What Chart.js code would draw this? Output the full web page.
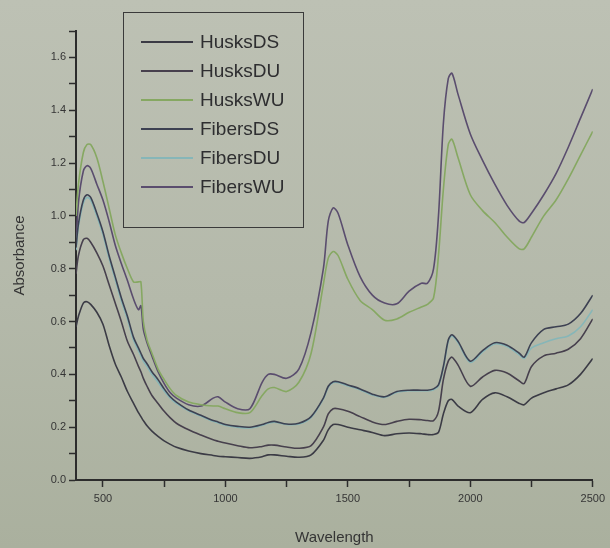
<!DOCTYPE html>
<html>
<head>
<meta charset="utf-8">
<script src="https://cdn.jsdelivr.net/npm/chart.js@4.4.0/dist/chart.umd.min.js"></script>
<style>
  html, body { margin: 0; padding: 0; }
  body {
    width: 610px; height: 548px; overflow: hidden;
    background: linear-gradient(180deg, #bdc1b4 0%, #b4b9aa 55%, #aab09e 100%);
    font-family: "Liberation Sans", Arial, sans-serif;
  }
  #wrap { position: relative; width: 610px; height: 548px; }
  #legend {
    position: absolute; left: 123px; top: 12px; width: 181px; height: 216px;
    border: 1.5px solid #3a3a3a; box-sizing: border-box; padding-top: 14px;
  }
  .row { height: 29px; display: flex; align-items: center; }
  .swatch { width: 52px; height: 2px; margin-left: 17px; margin-right: 7px; }
  .lbl { font-size: 19px; color: #2e2e30; }
</style>
</head>
<body>
<div id="wrap">
  <canvas id="myChart" width="610" height="548"></canvas>
  <div id="legend"></div>
</div>
<script>
// wavelength grid (nm)
const wavelengths = [390, 400, 420, 435, 450, 475, 500, 525, 550, 575, 600, 625, 645, 655, 665, 680, 700, 725, 750, 775,
  800, 850, 900, 950, 970, 1000, 1050, 1100, 1150, 1175, 1200, 1250, 1300, 1350, 1400, 1420, 1440, 1460, 1500, 1550,
  1600, 1650, 1700, 1750, 1800, 1825, 1850, 1870, 1890, 1910, 1925, 1950, 2000, 2050, 2100, 2150, 2200, 2220, 2250, 2300,
  2350, 2400, 2450, 2500];

const husksDS = [0.58, 0.62, 0.67, 0.675, 0.665, 0.635, 0.59, 0.51, 0.44, 0.39, 0.335, 0.29, 0.255, 0.24, 0.225, 0.205, 0.185, 0.165, 0.148, 0.135,
  0.124, 0.11, 0.1, 0.093, 0.09, 0.088, 0.085, 0.082, 0.088, 0.095, 0.095, 0.09, 0.086, 0.095, 0.15, 0.19, 0.21, 0.21, 0.2, 0.19,
  0.18, 0.168, 0.175, 0.178, 0.175, 0.172, 0.172, 0.18, 0.25, 0.3, 0.305, 0.28, 0.255, 0.305, 0.33, 0.315, 0.29, 0.285, 0.31, 0.33,
  0.345, 0.36, 0.4, 0.46];

const husksDU = [0.78, 0.85, 0.91, 0.915, 0.9, 0.86, 0.81, 0.74, 0.67, 0.6, 0.525, 0.475, 0.43, 0.41, 0.385, 0.355, 0.32, 0.29, 0.26, 0.235,
  0.215, 0.19, 0.17, 0.152, 0.147, 0.14, 0.13, 0.122, 0.127, 0.132, 0.132, 0.125, 0.12, 0.13, 0.2, 0.25, 0.27, 0.27, 0.26, 0.24,
  0.22, 0.21, 0.222, 0.23, 0.228, 0.225, 0.225, 0.26, 0.38, 0.45, 0.465, 0.435, 0.355, 0.39, 0.415, 0.405, 0.375, 0.365, 0.43, 0.47,
  0.48, 0.495, 0.535, 0.61];

const husksWU = [1.0, 1.12, 1.24, 1.27, 1.27, 1.22, 1.13, 1.03, 0.93, 0.86, 0.8, 0.75, 0.75, 0.75, 0.6, 0.53, 0.48, 0.42, 0.38, 0.345,
  0.32, 0.295, 0.285, 0.28, 0.28, 0.27, 0.255, 0.255, 0.32, 0.345, 0.35, 0.335, 0.37, 0.48, 0.74, 0.84, 0.865, 0.85, 0.76, 0.68,
  0.645, 0.605, 0.61, 0.635, 0.655, 0.665, 0.69, 0.85, 1.1, 1.27, 1.29, 1.22, 1.08, 1.02, 0.975, 0.92, 0.875, 0.875, 0.92, 1.0,
  1.06, 1.14, 1.23, 1.32];

const fibersDS = [0.88, 0.97, 1.06, 1.08, 1.07, 1.01, 0.94, 0.85, 0.77, 0.69, 0.62, 0.54, 0.5, 0.48, 0.46, 0.44, 0.41, 0.38, 0.345, 0.315,
  0.295, 0.265, 0.245, 0.225, 0.22, 0.21, 0.203, 0.2, 0.21, 0.218, 0.222, 0.212, 0.215, 0.24, 0.31, 0.355, 0.372, 0.372, 0.36, 0.345,
  0.325, 0.315, 0.335, 0.34, 0.34, 0.34, 0.345, 0.36, 0.43, 0.53, 0.55, 0.525, 0.45, 0.49, 0.52, 0.51, 0.48, 0.465, 0.52, 0.57,
  0.58, 0.59, 0.63, 0.7];

const fibersDU = [0.87, 0.96, 1.05, 1.07, 1.06, 1.0, 0.93, 0.84, 0.76, 0.68, 0.61, 0.53, 0.49, 0.47, 0.45, 0.43, 0.4, 0.37, 0.337, 0.31,
  0.29, 0.262, 0.242, 0.222, 0.217, 0.207, 0.2, 0.197, 0.207, 0.215, 0.219, 0.21, 0.212, 0.237, 0.307, 0.352, 0.369, 0.369, 0.357, 0.342,
  0.322, 0.313, 0.332, 0.338, 0.338, 0.338, 0.342, 0.356, 0.425, 0.525, 0.545, 0.52, 0.445, 0.485, 0.515, 0.505, 0.474, 0.46, 0.5, 0.52,
  0.535, 0.545, 0.58, 0.645];

const fibersWU = [0.88, 1.05, 1.17, 1.19, 1.18, 1.12, 1.06, 0.98, 0.89, 0.82, 0.755, 0.685, 0.645, 0.66, 0.57, 0.52, 0.47, 0.41, 0.365, 0.33,
  0.31, 0.285, 0.28, 0.31, 0.315, 0.295, 0.27, 0.27, 0.37, 0.4, 0.4, 0.385, 0.42, 0.56, 0.8, 0.98, 1.03, 1.01, 0.89, 0.77,
  0.7, 0.67, 0.667, 0.715, 0.745, 0.745, 0.8, 1.0, 1.35, 1.52, 1.54, 1.46, 1.31, 1.21, 1.12, 1.04, 0.98, 0.975, 1.01, 1.08,
  1.16, 1.26, 1.37, 1.48];

const seriesNames = ['HusksDS', 'HusksDU', 'HusksWU', 'FibersDS', 'FibersDU', 'FibersWU'];
const seriesValues = [husksDS, husksDU, husksWU, fibersDS, fibersDU, fibersWU];
const seriesColors = ['#3b3b45', '#47404d', '#86a862', '#3d4152', '#86b6b8', '#5a4d6e'];

const xTicks = [500, 750, 1000, 1250, 1500, 1750, 2000, 2250, 2500];

const axisColor = '#2c2c2c';
const textColor = '#353535';

function buildDatasets() {
  return seriesNames.map((name, i) => ({
    label: name,
    data: wavelengths.map((w, j) => ({x: w, y: seriesValues[i][j]})),
    borderColor: seriesColors[i],
    borderWidth: 1.6,
    pointRadius: 0,
    fill: false,
    tension: 0.3
  }));
}

var ctx = document.getElementById('myChart');
var myChart = new Chart(ctx, {
  type: 'line',
  data: { datasets: buildDatasets() },
  options: {
    responsive: false,
    animation: false,
    layout: { padding: { top: 31, right: 17, left: 0, bottom: 0 } },
    plugins: {
      legend: { display: false },
      tooltip: { enabled: false }
    },
    scales: {
      x: {
        type: 'linear',
        min: 390,
        max: 2500,
        afterBuildTicks: (scale) => { scale.ticks = xTicks.map(v => ({value: v})); },
        afterFit: (scale) => { scale.height = 68; },
        ticks: {
          autoSkip: false,
          maxRotation: 0,
          padding: 5,
          color: textColor,
          font: { size: 11, family: 'Liberation Sans' },
          callback: (v) => (v % 500 === 0 ? String(v) : '')
        },
        grid: { drawOnChartArea: false, drawTicks: true, tickLength: 7, tickColor: axisColor, tickWidth: 1.5 },
        border: { display: true, color: axisColor, width: 2 },
        title: {
          display: true, text: 'Wavelength', color: textColor,
          font: { size: 15, family: 'Liberation Sans' },
          padding: { top: 0, bottom: 1 }
        }
      },
      y: {
        min: 0,
        max: 1.7,
        afterFit: (scale) => { scale.width = 76; },
        ticks: {
          stepSize: 0.1,
          padding: 3,
          color: textColor,
          font: { size: 11, family: 'Liberation Sans' },
          callback: (v) => (Math.round(v * 10) % 2 === 0 ? v.toFixed(1) : '')
        },
        grid: { drawOnChartArea: false, drawTicks: true, tickLength: 7, tickColor: axisColor, tickWidth: 1.5 },
        border: { display: true, color: axisColor, width: 2 },
        title: {
          display: true, text: 'Absorbance', color: textColor,
          font: { size: 15, family: 'Liberation Sans' },
          padding: { top: 11, bottom: 0 }
        }
      }
    }
  }
});

// boxed legend, built from the dataset names/colours
var legend = document.getElementById('legend');
seriesNames.forEach((name, i) => {
  var row = document.createElement('div');
  row.className = 'row';
  row.innerHTML = '<div class="swatch" style="background:' + seriesColors[i] + '"></div><span class="lbl">' + name + '</span>';
  legend.appendChild(row);
});
</script>
</body>
</html>
